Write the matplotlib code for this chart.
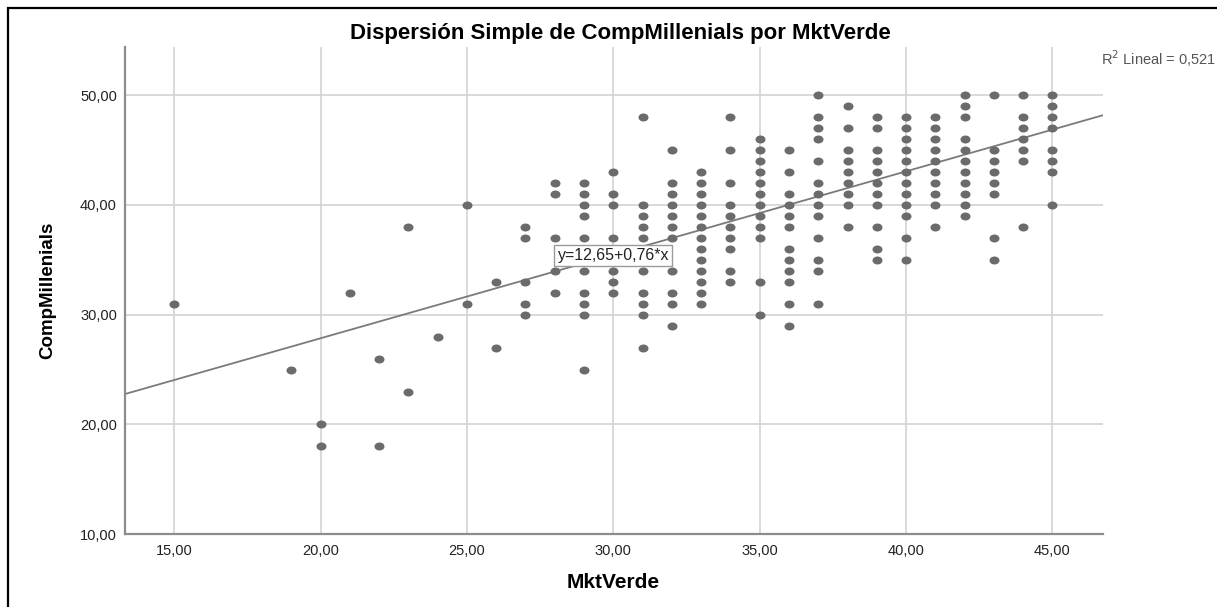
import matplotlib

matplotlib.use("Agg")
import matplotlib.pyplot as plt
import numpy as np
from matplotlib.path import Path
from matplotlib.patches import Rectangle
from matplotlib.ticker import FuncFormatter, MultipleLocator

# MktVerde levels and the CompMillenials values observed at each level
mkt_verde_levels = [15, 19, 20, 21, 22, 23, 24, 25, 26, 27, 28, 29, 30, 31, 32,
                    33, 34, 35, 36, 37, 38, 39, 40, 41, 42, 43, 44, 45]
comp_millenials_by_level = [
    [31],
    [25],
    [20, 18],
    [32],
    [26, 18],
    [38, 23],
    [28],
    [40, 31],
    [33, 27],
    [38, 37, 33, 31, 30],
    [42, 41, 37, 34, 32],
    [42, 41, 40, 39, 37, 34, 32, 31, 30, 25],
    [43, 41, 40, 37, 34, 33, 32],
    [48, 40, 39, 38, 37, 34, 32, 31, 30, 27],
    [45, 42, 41, 40, 39, 38, 37, 34, 32, 31, 29],
    [43, 42, 41, 40, 39, 38, 37, 36, 35, 34, 33, 32, 31],
    [48, 45, 42, 40, 39, 38, 37, 36, 34, 33],
    [46, 45, 44, 43, 42, 41, 40, 39, 38, 37, 33, 30],
    [45, 43, 41, 40, 39, 38, 36, 35, 34, 33, 31, 29],
    [50, 48, 47, 46, 44, 42, 41, 40, 39, 37, 35, 34, 31],
    [49, 47, 45, 44, 43, 42, 41, 40, 38],
    [48, 47, 45, 44, 43, 42, 41, 40, 38, 36, 35],
    [48, 47, 46, 45, 44, 43, 42, 41, 40, 39, 37, 35],
    [48, 47, 46, 45, 44, 43, 42, 41, 40, 38],
    [50, 49, 48, 46, 45, 44, 43, 42, 41, 40, 39],
    [50, 45, 44, 43, 42, 41, 37, 35],
    [50, 48, 47, 46, 45, 44, 38],
    [50, 49, 48, 47, 45, 44, 43, 40],
]

# linear fit reported on the chart
intercept = 12.65
slope = 0.76
r_squared = 0.521

plt.rcParams["font.family"] = ["Liberation Sans", "DejaVu Sans"]

W, H = 1217, 607
fig = plt.figure(figsize=(W / 100, H / 100), dpi=100)

# outer frame (SPSS chart border, cut at right/bottom)
fig.patches.append(Rectangle((8 / W, -0.05), 1.2, 1 - 8 / H + 0.05,
                             transform=fig.transFigure, fill=False,
                             edgecolor="black", linewidth=1.6))

ax = fig.add_axes([125.3 / W, 1 - 534.3 / H, (1102.8 - 125.3) / W, (534.3 - 46.7) / H])

x = np.concatenate([[lvl] * len(v) for lvl, v in zip(mkt_verde_levels, comp_millenials_by_level)])
y = np.concatenate(comp_millenials_by_level)

# SPSS draws slightly flattened dots
circ = Path.unit_circle()
ellipse = Path(circ.vertices * np.array([1.0, 0.8]), circ.codes)

ax.set_xlim(13.33, 46.72)
ax.set_ylim(10, 54.4)

xs = np.array(ax.get_xlim())
ax.plot(xs, intercept + slope * xs, color="#7a7a7a", linewidth=1.3, zorder=2)
ax.scatter(x, y, marker=ellipse, s=52, color="#6b6b6b", linewidths=0, zorder=3)

ax.xaxis.set_major_locator(MultipleLocator(5))
ax.yaxis.set_major_locator(MultipleLocator(10))
fmt = FuncFormatter(lambda v, _: f"{v:.2f}".replace(".", ","))
ax.xaxis.set_major_formatter(fmt)
ax.yaxis.set_major_formatter(fmt)
ax.tick_params(length=0, labelsize=10.5, colors="#222222")
ax.tick_params(axis="y", pad=6)
ax.tick_params(axis="x", pad=7)

ax.grid(True, color="#d3d3d3", linewidth=1.2)
ax.set_axisbelow(True)
for side in ("top", "right"):
    ax.spines[side].set_visible(False)
for side in ("left", "bottom"):
    ax.spines[side].set_color("#8c8c8c")
    ax.spines[side].set_linewidth(1.6)

ax.text(30.0, 35.4, f"y={intercept:.2f}+{slope:.2f}*x".replace(".", ","),
        ha="center", va="center", fontsize=11.5, color="#222222", zorder=4,
        bbox=dict(boxstyle="square,pad=0.2", facecolor="white", edgecolor="#9a9a9a", linewidth=1))

fig.text(620 / W, 1 - 33 / H, "Dispersión Simple de CompMillenials por MktVerde",
         ha="center", va="center", fontsize=16, fontweight="bold")
fig.text(613 / W, 1 - 583 / H, "MktVerde", ha="center", va="center",
         fontsize=15, fontweight="bold")
fig.text(48 / W, 1 - 290 / H, "CompMillenials", ha="center", va="center",
         rotation=90, fontsize=13.5, fontweight="bold")
fig.text(1101 / W, 1 - 59 / H, f"R$^2$ Lineal = {r_squared:.3f}".replace(".", ","),
         ha="left", va="center", fontsize=10.5, color="#555555")

fig.savefig("out.png", dpi=100)
